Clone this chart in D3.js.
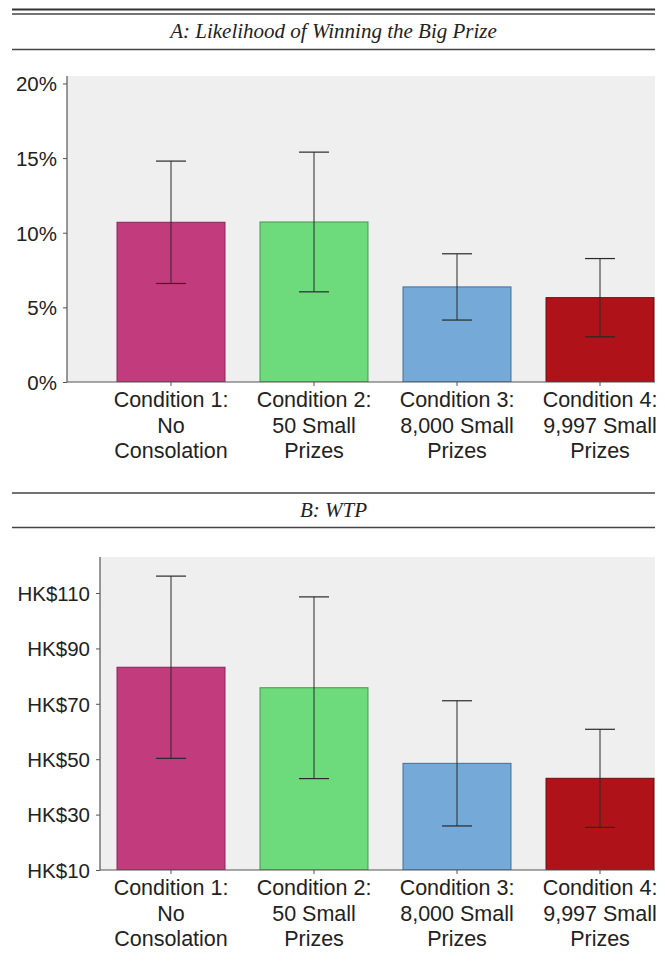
<!DOCTYPE html>
<html>
<head>
<meta charset="utf-8">
<script src="https://cdn.jsdelivr.net/npm/d3@7"></script>
<style>
  body { margin: 0; background: #fff; }
  svg { display: block; }
  .tick text { font-family: "Liberation Sans", Arial, sans-serif; font-size: 20.5px; fill: #222; }
</style>
</head>
<body>
<div id="chart"></div>
<script>
// condition labels (one entry per line)
const conditions = ["c1", "c2", "c3", "c4"];
const conditionLabels = [
    ["Condition 1:", "No", "Consolation"],
    ["Condition 2:", "50 Small", "Prizes"],
    ["Condition 3:", "8,000 Small", "Prizes"],
    ["Condition 4:", "9,997 Small", "Prizes"]
];
const barColors = ["#c23b7d", "#6ddb7b", "#74a9d8", "#b01219"];
const barStrokes = ["#8a2356", "#3f9a4c", "#3f6f9c", "#6e0a0e"];

// panel A: likelihood of winning the big prize (mean, error half-width)
const likelihood = [0.1070, 0.1072, 0.0637, 0.0565];
const likelihoodErr = [0.0410, 0.0468, 0.0222, 0.0262];
const likelihoodTicks = [0, 0.05, 0.10, 0.15, 0.20];

// panel B: WTP in HK$
const wtp = [83.2, 75.8, 48.5, 43.1];
const wtpErr = [32.9, 32.8, 22.6, 17.7];
const wtpTicks = [10, 30, 50, 70, 90, 110];

const width = 665, height = 968;
const svg = d3.select("#chart").append("svg")
    .attr("width", width)
    .attr("height", height);

const ruleLeft = 12, ruleRight = 655;

// header rules + italic titles
function header(yTop, yBottom, title, doubleTop) {
    if (doubleTop) {
        svg.append("line").attr("x1", ruleLeft).attr("x2", ruleRight)
            .attr("y1", yTop - 4.5).attr("y2", yTop - 4.5)
            .attr("stroke", "#333").attr("stroke-width", 2);
    }
    svg.append("line").attr("x1", ruleLeft).attr("x2", ruleRight)
        .attr("y1", yTop).attr("y2", yTop)
        .attr("stroke", "#444").attr("stroke-width", 1.5);
    svg.append("line").attr("x1", ruleLeft).attr("x2", ruleRight)
        .attr("y1", yBottom).attr("y2", yBottom)
        .attr("stroke", "#444").attr("stroke-width", 1.5);
    svg.append("text")
        .attr("x", (ruleLeft + ruleRight) / 2)
        .attr("y", (yTop + yBottom) / 2 + 6.5)
        .attr("text-anchor", "middle")
        .attr("font-family", "'Liberation Serif', 'Times New Roman', serif")
        .attr("font-style", "italic")
        .attr("font-size", 21)
        .attr("fill", "#222")
        .text(title);
}

// one bar panel
function panel(opts) {
    const g = svg.append("g");

    const x = d3.scaleBand()
        .domain(conditions)
        .range([99.5, 671.5])
        .paddingInner(0.245)
        .paddingOuter(0.1225);

    const y = d3.scaleLinear()
        .domain(opts.domain)
        .range([opts.bottom, opts.top]);

    const clipId = "clip" + opts.id;
    svg.append("clipPath").attr("id", clipId)
        .append("rect")
        .attr("x", opts.left).attr("y", opts.top)
        .attr("width", ruleRight - opts.left)
        .attr("height", opts.bottom - opts.top);

    g.append("rect")
        .attr("x", opts.left).attr("y", opts.top)
        .attr("width", ruleRight - opts.left)
        .attr("height", opts.bottom - opts.top)
        .attr("fill", "#efefef");

    const plot = g.append("g").attr("clip-path", `url(#${clipId})`);

    plot.selectAll("rect.bar")
        .data(conditions)
        .join("rect")
        .attr("class", "bar")
        .attr("x", d => x(d))
        .attr("width", x.bandwidth())
        .attr("y", (d, i) => y(opts.values[i]))
        .attr("height", (d, i) => opts.bottom - y(opts.values[i]))
        .attr("fill", (d, i) => barColors[i])
        .attr("stroke", (d, i) => barStrokes[i])
        .attr("stroke-width", 1);

    // error bars
    const cap = 15;
    conditions.forEach((c, i) => {
        const cx = x(c) + x.bandwidth() / 2;
        const hi = y(opts.values[i] + opts.errors[i]);
        const lo = y(opts.values[i] - opts.errors[i]);
        plot.append("line").attr("x1", cx).attr("x2", cx).attr("y1", hi).attr("y2", lo)
            .attr("stroke", "#2a2a2a").attr("stroke-width", 1);
        [hi, lo].forEach(yy => {
            plot.append("line").attr("x1", cx - cap).attr("x2", cx + cap)
                .attr("y1", yy).attr("y2", yy)
                .attr("stroke", "#2a2a2a").attr("stroke-width", 1.2);
        });
    });

    // y axis
    const yAxis = d3.axisLeft(y)
        .tickValues(opts.ticks)
        .tickSize(4)
        .tickPadding(6)
        .tickFormat(opts.format);
    const ya = g.append("g")
        .attr("transform", `translate(${opts.left},0)`)
        .call(yAxis);
    ya.select(".domain").remove();
    ya.selectAll(".tick line").attr("stroke", "#555");
    ya.selectAll(".tick text").attr("dy", "0.36em");
    g.append("line")
        .attr("x1", opts.left).attr("x2", opts.left)
        .attr("y1", opts.top).attr("y2", opts.bottom)
        .attr("stroke", "#555").attr("stroke-width", 1.2);

    // x axis
    g.append("line")
        .attr("x1", opts.left).attr("x2", ruleRight)
        .attr("y1", opts.bottom).attr("y2", opts.bottom)
        .attr("stroke", "#555").attr("stroke-width", 1.2);
    const xAxis = d3.axisBottom(x).tickSize(4).tickFormat("");
    const xa = g.append("g")
        .attr("transform", `translate(0,${opts.bottom})`)
        .call(xAxis);
    xa.select(".domain").remove();
    xa.selectAll(".tick line").attr("stroke", "#555");

    conditions.forEach((c, i) => {
        const t = g.append("text")
            .attr("x", x(c) + x.bandwidth() / 2)
            .attr("y", opts.bottom + 25)
            .attr("text-anchor", "middle")
            .attr("font-family", "'Liberation Sans', Arial, sans-serif")
            .attr("font-size", 21.5)
            .attr("fill", "#222");
        conditionLabels[i].forEach((line, k) => {
            t.append("tspan")
                .attr("x", x(c) + x.bandwidth() / 2)
                .attr("dy", k === 0 ? 0 : 25.5)
                .text(line);
        });
    });
}

header(14, 49.5, "A: Likelihood of Winning the Big Prize", true);
panel({
    id: "A", left: 67, top: 76, bottom: 382,
    domain: [0, 0.205], values: likelihood, errors: likelihoodErr,
    ticks: likelihoodTicks, format: d3.format(".0%")
});

header(493, 527.5, "B: WTP", false);
panel({
    id: "B", left: 100, top: 557, bottom: 870,
    domain: [10, 123], values: wtp, errors: wtpErr,
    ticks: wtpTicks, format: d => "HK$" + d
});
</script>
</body>
</html>
